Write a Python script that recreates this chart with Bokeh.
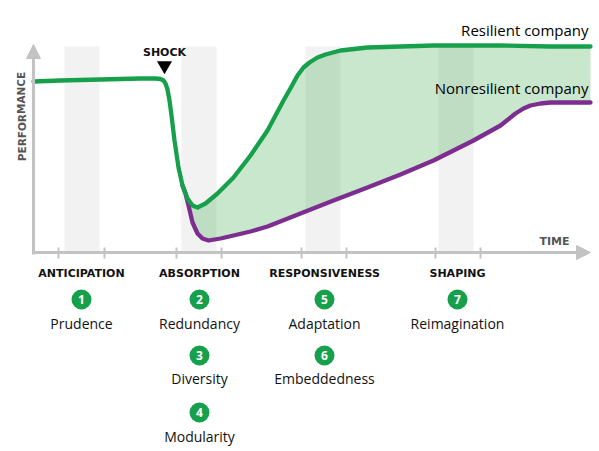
from bokeh.plotting import figure
from bokeh.models import Range1d, Arrow, NormalHead, ColumnDataSource
from bokeh.embed import file_html
from bokeh.resources import INLINE
from bokeh.core.properties import value

# ---- data (time units, performance units) ----
green_t = [0, 27, 67, 107, 122, 127, 130, 132, 134, 136, 138, 141, 145, 149, 154, 159, 164, 172, 184, 200, 217, 234,
           250, 258, 264, 270, 276, 284, 292, 307, 334, 367, 400, 467, 517, 557]
green_p = [171, 172, 173, 174, 174, 173.5, 172, 169, 163, 152, 137, 112, 85, 67, 54, 47, 45, 49, 59, 75, 97, 122,
           152, 166, 177, 185, 190, 195, 198, 202, 205, 206, 207, 207, 206, 206]
purple_t = [149, 152, 155, 159, 164, 169, 175, 187, 200, 217, 234, 267, 300, 334, 367, 400, 440, 467, 482, 490, 497, 507, 517, 557]
purple_p = [67, 59, 47, 30, 19, 14, 12, 14, 17, 21, 26, 39, 52, 65, 78, 92, 112, 127, 139, 144, 147, 149, 150, 150]

band_start = [31, 148, 272, 405]
band_end = [66, 183, 307, 440]
tick_t = [25, 71, 143, 188, 268, 313, 402, 447]
phases = ["ANTICIPATION", "ABSORPTION", "RESPONSIVENESS", "SHAPING"]
phase_center = [48, 166, 291, 424]

item_num = ["1", "2", "3", "4", "5", "6", "7"]
item_name = ["Prudence", "Redundancy", "Diversity", "Modularity", "Adaptation", "Embeddedness", "Reimagination"]
item_phase = [0, 1, 1, 1, 2, 2, 3]
item_row = [0, 0, 1, 2, 0, 1, 0]
row_circle_p = [-47, -103, -160]
row_name_p = [-71, -126, -184]

shock_t = 131
y_top = 206
split = 13  # index in green where the purple curve separates

GREEN = "#17a04b"
PURPLE = "#7d2c8f"
AXIS = "#c3c3c3"
FONT = "Open Sans"
CAPS = "DejaVu Sans"

p = figure(width=599, height=451, output_backend="svg", toolbar_location=None,
           x_range=Range1d(-33, 566), y_range=Range1d(-199, 252),
           min_border=0, min_border_left=0, min_border_right=0, min_border_top=0, min_border_bottom=0)
p.axis.visible = False
p.grid.visible = False
p.outline_line_color = None
p.background_fill_color = "white"
p.border_fill_color = "white"

# phase bands
p.quad(left=band_start, right=band_end, bottom=0, top=y_top, fill_color="#f2f2f2", line_color=None)

# fill between curves
poly_t = green_t[split:] + purple_t[::-1]
poly_p = green_p[split:] + purple_p[::-1]
p.patch(poly_t, poly_p, fill_color="#3aa84a", fill_alpha=0.28, line_color=None)

# curves
p.line(purple_t, purple_p, line_color=PURPLE, line_width=4.3, line_join="round", line_cap="round")
p.line(green_t, green_p, line_color=GREEN, line_width=4.3, line_join="round", line_cap="round")

# axes with arrows
p.add_layout(Arrow(x_start=0, y_start=-2, x_end=0, y_end=208, line_color=AXIS, line_width=3,
                   end=NormalHead(size=14, fill_color=AXIS, line_color=AXIS)))
p.add_layout(Arrow(x_start=-1, y_start=0, x_end=557, y_end=0, line_color=AXIS, line_width=3,
                   end=NormalHead(size=14, fill_color=AXIS, line_color=AXIS)))
p.segment(x0=tick_t, y0=[5] * len(tick_t), x1=tick_t, y1=[-6] * len(tick_t), line_color=AXIS, line_width=2)

# labels on chart
p.text(x=[555], y=[223], text=["Resilient company"], text_align="right", text_baseline="middle",
       text_font=value(FONT), text_font_size="15px", text_font_style="normal", text_color="#000000")
p.text(x=[555], y=[165], text=["Nonresilient company"], text_align="right", text_baseline="middle",
       text_font=value(FONT), text_font_size="15px", text_color="#000000")
p.text(x=[shock_t], y=[200], text=["SHOCK"], text_align="center", text_baseline="middle",
       text_font=value(CAPS), text_font_size="11px", text_font_style="bold", text_color="#111111")
p.scatter(x=[shock_t], y=[187], marker="inverted_triangle", size=15, fill_color="black", line_color=None)
p.text(x=[-12], y=[136], text=["PERFORMANCE"], angle=1.5708, text_align="center", text_baseline="middle",
       text_font=value(CAPS), text_font_size="10.5px", text_font_style="bold", text_color="#555555")
p.text(x=[521], y=[11], text=["TIME"], text_align="center", text_baseline="middle",
       text_font=value(CAPS), text_font_size="11px", text_font_style="bold", text_color="#555555")

# phase labels
p.text(x=phase_center, y=[-21] * 4, text=phases, text_align="center", text_baseline="middle",
       text_font=value(CAPS), text_font_size="11px", text_font_style="bold", text_color="#111111")

# items
it_t = [phase_center[i] for i in item_phase]
src = ColumnDataSource(dict(t=it_t, cp=[row_circle_p[r] for r in item_row],
                            np_=[row_name_p[r] for r in item_row], num=item_num, name=item_name))
p.scatter(x="t", y="cp", source=src, marker="circle", size=20, fill_color=GREEN, line_color=None)
p.text(x="t", y="cp", text="num", source=src, text_align="center", text_baseline="middle",
       text_font=value(FONT), text_font_size="12px", text_font_style="bold", text_color="white")
p.text(x="t", y="np_", text="name", source=src, text_align="center", text_baseline="middle",
       text_font=value(FONT), text_font_size="14px", text_color="#111111")

open("out.html", "w").write(file_html(p, INLINE))
